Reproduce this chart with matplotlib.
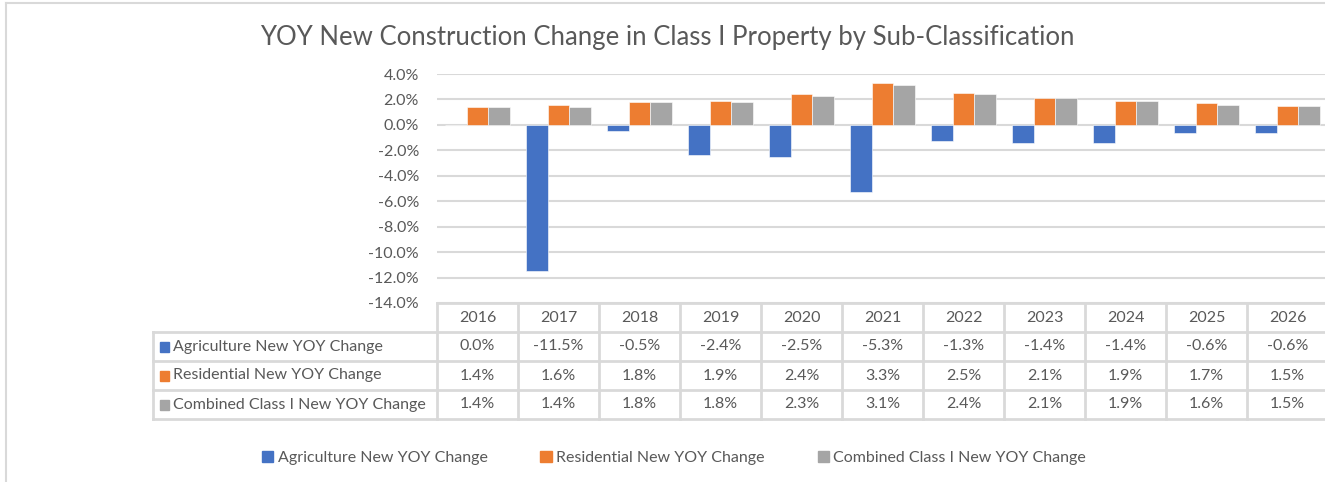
import matplotlib
matplotlib.use("Agg")
import matplotlib.pyplot as plt
from matplotlib.patches import Patch

YEARS = ["2016", "2017", "2018", "2019", "2020", "2021", "2022", "2023", "2024", "2025", "2026"]
SERIES = ["Agriculture New YOY Change", "Residential New YOY Change", "Combined Class I New YOY Change"]
AGRICULTURE = [0.0, -11.5, -0.5, -2.4, -2.5, -5.3, -1.3, -1.4, -1.4, -0.6, -0.6]
RESIDENTIAL = [1.4, 1.6, 1.8, 1.9, 2.4, 3.3, 2.5, 2.1, 1.9, 1.7, 1.5]
COMBINED = [1.4, 1.4, 1.8, 1.8, 2.3, 3.1, 2.4, 2.1, 1.9, 1.6, 1.5]
Y_TICKS = [4, 2, 0, -2, -4, -6, -8, -10, -12, -14]

COLORS = ["#4472C4", "#ED7D31", "#A5A5A5"]
TEXT = "#595959"
GRID = "#D9D9D9"

plt.rcParams["font.family"] = ["Lato", "DejaVu Sans"]

W, H = 1325, 482
fig = plt.figure(figsize=(W / 100, H / 100), dpi=100)


def px(x, y):
    "pixel (from top-left) to figure fraction"
    return x / W, 1 - y / H


# outer chart border (top and left visible)
fig.add_artist(plt.Line2D([6 / W, 1], [1 - 3 / H, 1 - 3 / H], color=GRID, lw=1.5))
fig.add_artist(plt.Line2D([6 / W, 6 / W], [0, 1 - 3 / H], color=GRID, lw=1.5))

fig.text(*px(667, 38), "YOY New Construction Change in Class I Property by Sub-Classification",
         ha="center", va="center", fontsize=18.5, color=TEXT)

left, top, bottom, right = 437, 74, 303, 1328
ax = fig.add_axes([left / W, 1 - bottom / H, (right - left) / W, (bottom - top) / H])

n = len(YEARS)
bw = 0.27
for i, (vals, col) in enumerate(zip([AGRICULTURE, RESIDENTIAL, COMBINED], COLORS)):
    ax.bar([k + (i - 1) * bw for k in range(n)], vals, width=bw, color=col,
           edgecolor="white", linewidth=0.4, zorder=3)

ax.set_xlim(-0.5, n - 0.5)
ax.set_ylim(-14, 4)
ax.set_yticks(Y_TICKS)
ax.set_yticklabels(["{:.1f}%".format(v) for v in Y_TICKS])
ax.tick_params(axis="y", length=0, pad=13, labelsize=11.5, labelcolor=TEXT)
ax.set_xticks([])
ax.grid(axis="y", color=GRID, lw=1.5, zorder=0)
for s in ax.spines.values():
    s.set_visible(False)

# data table below the axis
row_h = 29
rows_top = bottom
tr = ax.get_xaxis_transform()
ah = bottom - top


def ay(ypix):
    return (bottom - ypix) / ah


line_kw = dict(color=GRID, lw=2, clip_on=False, transform=tr)
# horizontal lines
ax.plot([-0.5, n - 0.5], [ay(rows_top), ay(rows_top)], **line_kw)
for r in range(1, 5):
    yy = ay(rows_top + r * row_h)
    ax.plot([-0.5, n - 0.5], [yy, yy], **line_kw)
    fig.add_artist(plt.Line2D([153 / W, left / W], [1 - (rows_top + r * row_h) / H] * 2,
                              color=GRID, lw=2))
# vertical lines
for k in range(n + 1):
    ax.plot([k - 0.5, k - 0.5], [ay(rows_top), ay(rows_top + 4 * row_h)], **line_kw)
fig.add_artist(plt.Line2D([153 / W, 153 / W], [1 - (rows_top + row_h) / H, 1 - (rows_top + 4 * row_h) / H],
                          color=GRID, lw=2))

for k, yr in enumerate(YEARS):
    ax.text(k, ay(rows_top + row_h / 2), yr, transform=tr, ha="center", va="center",
            fontsize=11.5, color=TEXT, clip_on=False)
for r, (name, vals, col) in enumerate(zip(SERIES, [AGRICULTURE, RESIDENTIAL, COMBINED], COLORS)):
    yc = rows_top + (r + 1.5) * row_h
    for k, v in enumerate(vals):
        ax.text(k, ay(yc), "{:.1f}%".format(v), transform=tr, ha="center", va="center",
                fontsize=11.5, color=TEXT, clip_on=False)
    fig.patches.append(plt.Rectangle(px(160, yc + 5), 9 / W, 10 / H, color=col,
                                     transform=fig.transFigure, figure=fig))
    fig.text(*px(173, yc), name, ha="left", va="center", fontsize=11.5, color=TEXT)

handles = [Patch(color=c) for c in COLORS]
fig.legend(handles, SERIES, loc="center", bbox_to_anchor=px(674, 458), ncol=3, frameon=False,
           fontsize=11.5, labelcolor=TEXT, handlelength=0.7, handleheight=0.7,
           handletextpad=0.3, columnspacing=3.3)

fig.savefig("out.png", dpi=100)
